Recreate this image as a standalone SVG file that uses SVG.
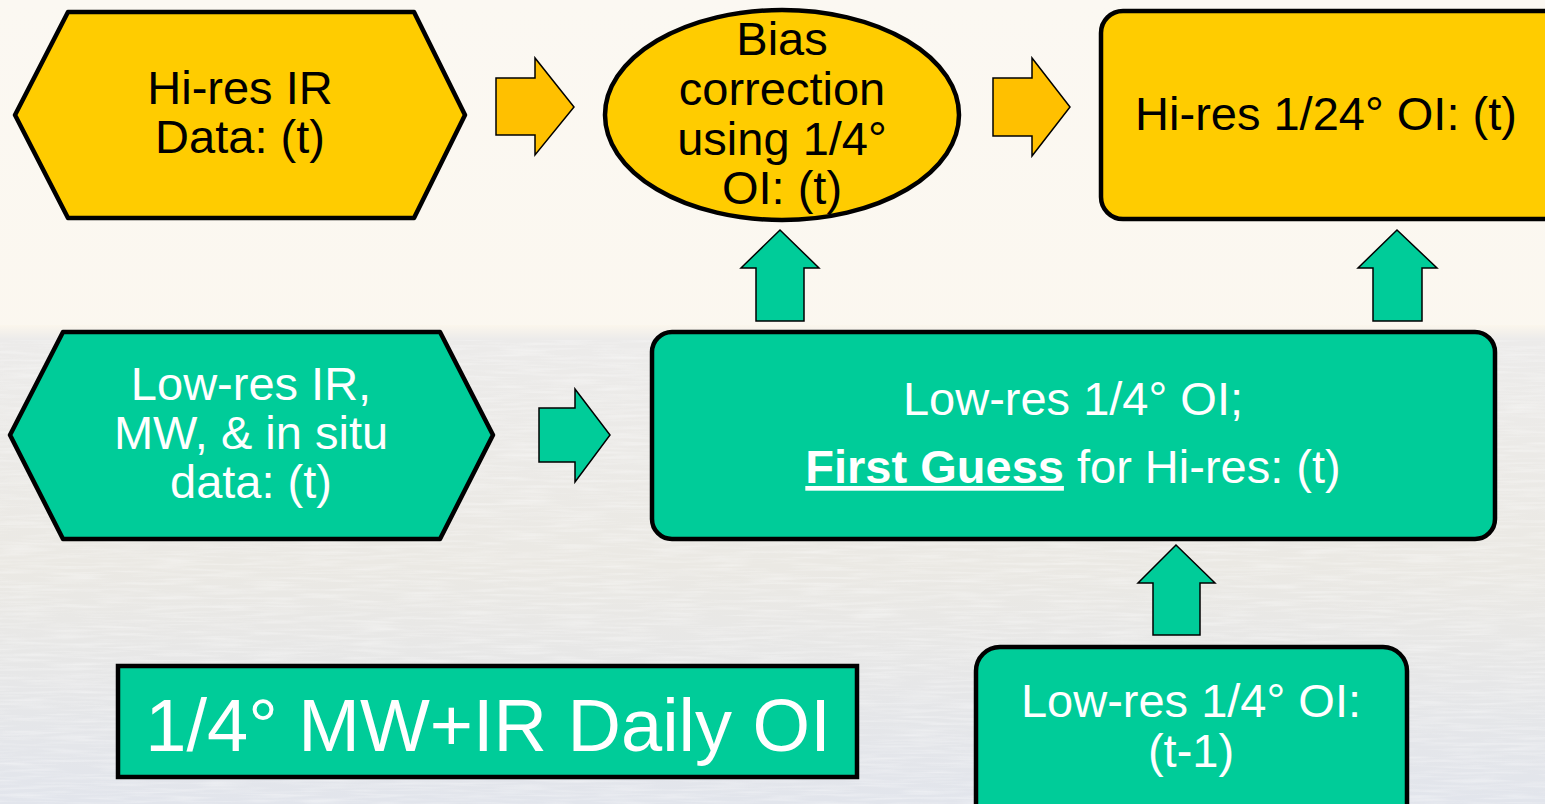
<svg xmlns="http://www.w3.org/2000/svg" width="1545" height="804" viewBox="0 0 1545 804">
  <defs>
    <linearGradient id="sky" x1="0" y1="0" x2="0" y2="1">
      <stop offset="0" stop-color="#fbf8f2"/>
      <stop offset="1" stop-color="#fbf6ec"/>
    </linearGradient>
    <linearGradient id="sea" x1="0" y1="0" x2="0" y2="1">
      <stop offset="0" stop-color="#fbf6ec"/>
      <stop offset="0.03" stop-color="#ecebea"/>
      <stop offset="0.5" stop-color="#ebe9e4"/>
      <stop offset="1" stop-color="#e2e5ec"/>
    </linearGradient>
    <filter id="ripple" x="0" y="0" width="1" height="1">
      <feTurbulence type="fractalNoise" baseFrequency="0.02 0.35" numOctaves="2" seed="4" result="n"/>
      <feColorMatrix in="n" type="matrix" values="0 0 0 0 1  0 0 0 0 1  0 0 0 0 1  0 0 0 -2.2 1.3" result="w"/>
      <feComposite in="w" in2="SourceGraphic" operator="in"/>
    </filter>
    <style>
      .yel { fill: #ffcc00; stroke: #000; stroke-width: 4.5; stroke-linejoin: round; }
      .grn { fill: #00cc99; stroke: #000; stroke-width: 4.5; stroke-linejoin: round; }
      .yarrow { fill: #ffc000; stroke: #000; stroke-width: 1.5; }
      .garrow { fill: #00cc99; stroke: #000; stroke-width: 1.5; }
      .t { font-family: "Liberation Sans", Arial, sans-serif; font-size: 47px; text-anchor: middle; }
      .big { font-size: 74px; }
      .dark { fill: #000; }
      .light { fill: #fff; }
    </style>
  </defs>

  <!-- backdrop: pale sky above the horizon, sea below -->
  <rect x="0" y="0" width="1545" height="804" fill="url(#sky)"/>
  <rect x="0" y="325" width="1545" height="479" fill="url(#sea)"/>
  <rect x="0" y="340" width="1545" height="464" fill="#fff" filter="url(#ripple)" opacity="0.35"/>

  <!-- connectors -->
  <g id="connectors">
    <path class="yarrow" d="M496,78 H535 V58 L574,107 L535,155 V135 H496 Z"/>
    <path class="yarrow" d="M993,78 H1032 V58 L1070,107 L1032,156 V136 H993 Z"/>
    <path class="garrow" d="M539,408 H575 V389 L610,435 L575,482 V462 H539 Z"/>
    <path class="garrow" d="M756,321 V268 H741 L780,230 L819,268 H804 V321 Z"/>
    <path class="garrow" d="M1373,321 V268 H1358 L1397,230 L1437,268 H1422 V321 Z"/>
    <path class="garrow" d="M1153,635 V583 H1138 L1176,545 L1215,583 H1200 V635 Z"/>
  </g>

  <g id="hires-ir">
    <polygon class="yel" points="15,115 68,12 414,12 465,115 414,218 68,218"/>
    <text class="t dark" x="240" y="104">Hi-res IR</text>
    <text class="t dark" x="240" y="153">Data: (t)</text>
  </g>

  <g id="bias-correction">
    <ellipse class="yel" cx="782" cy="115" rx="177" ry="105"/>
    <text class="t dark" x="782" y="55">Bias</text>
    <text class="t dark" x="782" y="105">correction</text>
    <text class="t dark" x="782" y="155">using 1/4°</text>
    <text class="t dark" x="782" y="204">OI: (t)</text>
  </g>

  <g id="hires-oi">
    <rect class="yel" x="1101" y="11" width="470" height="208" rx="22"/>
    <text class="t dark" x="1326" y="130">Hi-res 1/24° OI: (t)</text>
  </g>

  <g id="lowres-data">
    <polygon class="grn" points="10,435 63,332 440,332 493,435 440,539 63,539"/>
    <text class="t light" x="251" y="400">Low-res IR,</text>
    <text class="t light" x="251" y="449">MW, &amp; in situ</text>
    <text class="t light" x="251" y="498">data: (t)</text>
  </g>

  <g id="lowres-oi">
    <rect class="grn" x="652" y="332" width="843" height="207" rx="20"/>
    <text class="t light" x="1073" y="415">Low-res 1/4° OI;</text>
    <text class="t light" x="1073" y="483"><tspan font-weight="bold" text-decoration="underline">First Guess</tspan> for Hi-res: (t)</text>
  </g>

  <g id="lowres-prev">
    <rect class="grn" x="976" y="647" width="431" height="190" rx="24"/>
    <text class="t light" x="1191" y="717">Low-res 1/4° OI:</text>
    <text class="t light" x="1191" y="767">(t-1)</text>
  </g>

  <g id="title">
    <rect x="118" y="666" width="739" height="111" fill="#00cc99" stroke="#000" stroke-width="4.5"/>
    <text class="t big light" x="488" y="751">1/4° MW+IR Daily OI</text>
  </g>
</svg>
